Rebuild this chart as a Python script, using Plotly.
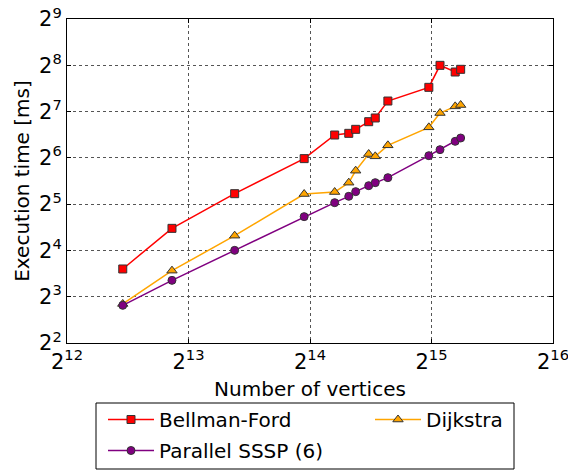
import plotly.graph_objects as go

vertices = [5630, 7455, 10660, 15848, 18860, 20440, 21262, 22900, 23773, 25549, 32272, 34397, 37510, 38698]
bellman_ford = [12.12, 22.27, 37.43, 63.25, 90.1, 92.4, 98.1, 110.0, 116.3, 149.9, 184.0, 255.8, 231.5, 241.0]
dijkstra = [7.18, 11.82, 19.96, 37.24, 38.37, 44.14, 52.82, 67.79, 65.48, 77.22, 101.1, 125.3, 138.4, 141.2]
parallel_sssp = [7.03, 10.22, 16.02, 26.54, 32.72, 35.98, 38.59, 42.19, 44.14, 47.57, 66.12, 72.35, 81.97, 86.16]

x_exps = [12, 13, 14, 15, 16]
y_exps = [2, 3, 4, 5, 6, 7, 8, 9]

FONT = "DejaVu Sans"
edge = dict(color="#333333", width=1)

fig = go.Figure()
fig.add_trace(go.Scatter(x=vertices, y=bellman_ford, mode="lines+markers", name="Bellman-Ford",
                         line=dict(color="#ff0000", width=1.5), legend="legend", legendgroup="a",
                         marker=dict(symbol="square", size=8, color="#ff0000", line=edge)))
fig.add_trace(go.Scatter(x=vertices, y=dijkstra, mode="lines+markers", name="Dijkstra",
                         line=dict(color="#ffa500", width=1.5), legend="legend2", legendgroup="c",
                         marker=dict(symbol="triangle-up", size=9, color="#ffa500", line=edge)))
fig.add_trace(go.Scatter(x=vertices, y=parallel_sssp, mode="lines+markers", name="Parallel SSSP (6)",
                         line=dict(color="#800080", width=1.5), legend="legend", legendgroup="b",
                         marker=dict(symbol="circle", size=8, color="#800080", line=edge)))

axis_common = dict(showline=True, linecolor="black", linewidth=1, mirror="allticks",
                   ticks="inside", ticklen=4, tickcolor="black",
                   showgrid=True, gridcolor="#555555", griddash="dot", gridwidth=1,
                   zeroline=False, ticklabeloverflow="allow",
                   tickfont=dict(family=FONT, size=21, color="black"))

title_font = dict(family=FONT, size=20, color="black")
fig.update_xaxes(type="log", range=[12 * 0.30103, 16 * 0.30103],
                 tickvals=[2 ** e for e in x_exps], ticktext=[f"2<sup>{e}</sup>" for e in x_exps],
                 title=dict(text="Number of vertices", font=title_font, standoff=8),
                 **axis_common)
fig.update_yaxes(type="log", range=[2 * 0.30103, 9 * 0.30103],
                 tickvals=[2 ** e for e in y_exps], ticktext=[f"2<sup>{e}</sup>" for e in y_exps],
                 title=dict(text="Execution time [ms]", font=title_font, standoff=4),
                 **axis_common)

# legend frame (spanning both legend columns)
fig.add_shape(type="rect", xref="paper", yref="paper",
              x0=(96 - 67) / 486, x1=(514 - 67) / 486,
              y0=(343 - 469) / 324, y1=(343 - 403) / 324,
              line=dict(color="black", width=1), fillcolor="rgba(0,0,0,0)", layer="above")

leg_font = dict(family=FONT, size=20, color="black")
fig.update_layout(width=568, height=470,
                  margin=dict(l=67, r=15, t=19, b=127, autoexpand=False),
                  plot_bgcolor="white", paper_bgcolor="white",
                  font=dict(family=FONT, color="black"),
                  legend=dict(orientation="v", x=(103 - 67) / 486, y=(343 - 400) / 324,
                              xanchor="left", yanchor="top", bgcolor="rgba(0,0,0,0)",
                              borderwidth=0, font=leg_font, traceorder="grouped",
                              tracegroupgap=2, itemwidth=46),
                  legend2=dict(orientation="v", x=(370 - 67) / 486, y=(343 - 400) / 324,
                               xanchor="left", yanchor="top", bgcolor="rgba(0,0,0,0)",
                               borderwidth=0, font=leg_font, itemwidth=46))

fig.write_html("out.html")
